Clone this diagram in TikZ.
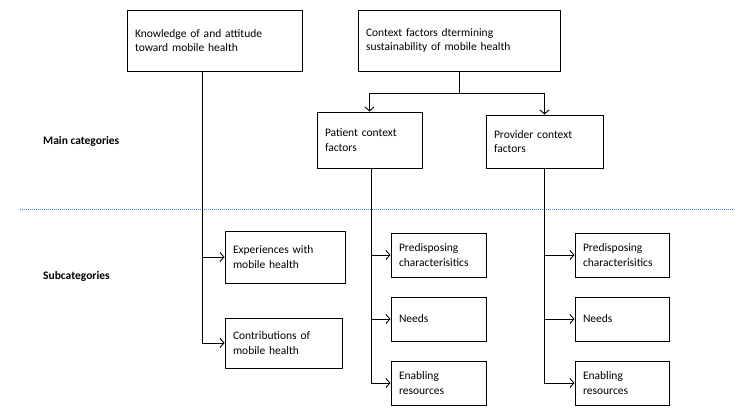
\documentclass[tikz,border=0pt]{standalone}
\usepackage{fontspec}
\setmainfont{Carlito}
\usetikzlibrary{arrows.meta}
\begin{document}
\begin{tikzpicture}[x=1pt,y=-1pt,
  bx/.style={draw=black, line width=0.9pt, align=left, inner xsep=8pt, inner ysep=2pt,
    font=\fontsize{11.5}{14.5}\selectfont},
  conn/.style={draw=black, line width=0.9pt},
  arr/.style={conn, -{Straight Barb[length=4pt,width=9pt,line width=0.9pt]}},
  lbl/.style={anchor=west, font=\fontsize{11.5}{14}\selectfont\bfseries, inner sep=0pt}]
\fill[white] (0,0) rectangle (746,418);
\useasboundingbox (0,0) rectangle (746,418);
% top boxes
\node[bx, minimum width=175pt, minimum height=61pt, text width=159pt] (k) at (214.5,40.5) {Knowledge of and attitude\\toward mobile health};
\node[bx, minimum width=202pt, minimum height=61pt, text width=186pt] (c) at (459,40.5) {Context factors dtermining\\sustainability of mobile health};
% main category boxes
\node[bx, minimum width=105pt, minimum height=56pt, text width=89pt] (pat) at (369.5,140) {Patient context\\factors};
\node[bx, minimum width=117pt, minimum height=53pt, text width=101pt] (prov) at (544.5,141.5) {Provider context\\factors};
% subcategory boxes left
\node[bx, minimum width=120pt, minimum height=52pt, text width=104pt] (exp) at (285,257) {Experiences with\\mobile health};
\node[bx, minimum width=117pt, minimum height=50pt, text width=101pt] (con) at (283.5,343) {Contributions of\\mobile health};
% patient subboxes
\node[bx, minimum width=95pt, minimum height=44pt, text width=79pt] (pp) at (438.5,255) {Predisposing\\characterisitics};
\node[bx, minimum width=95pt, minimum height=44pt, text width=79pt] (pn) at (438.5,319) {Needs};
\node[bx, minimum width=95pt, minimum height=44pt, text width=79pt] (pe) at (438.5,383) {Enabling\\resources};
% provider subboxes
\node[bx, minimum width=94pt, minimum height=44pt, text width=78pt] (vp) at (622,255) {Predisposing\\characterisitics};
\node[bx, minimum width=94pt, minimum height=44pt, text width=78pt] (vn) at (622,319) {Needs};
\node[bx, minimum width=94pt, minimum height=44pt, text width=78pt] (ve) at (622,383) {Enabling\\resources};
% labels
\node[lbl] (mc) at (43,141) {Main categories};
\node[lbl] (sc) at (43,276) {Subcategories};
% dotted divider
\coordinate (dl) at (20,209);
\coordinate (dr) at (733,209);
\draw[color={rgb,255:red,80;green,130;blue,175}, line width=0.7pt, dash pattern=on 1pt off 1pt] (dl) -- (dr);
% connectors
\coordinate (kd) at ([xshift=76pt]k.south west);
\draw[arr] (kd) |- (exp.west);
\draw[arr] (kd) |- (con.west);
\draw[conn] (c.south) -- ++(0,22) coordinate (cj);
\draw[arr] (cj) -| (pat.north);
\draw[arr] (cj) -| (prov.north);
\coordinate (pd) at ([xshift=55pt]pat.south west);
\draw[arr] (pd) |- (pp.west);
\draw[arr] (pd) |- (pn.west);
\draw[arr] (pd) |- (pe.west);
\draw[arr] (prov.south) |- (vp.west);
\draw[arr] (prov.south) |- (vn.west);
\draw[arr] (prov.south) |- (ve.west);
\end{tikzpicture}
\end{document}
